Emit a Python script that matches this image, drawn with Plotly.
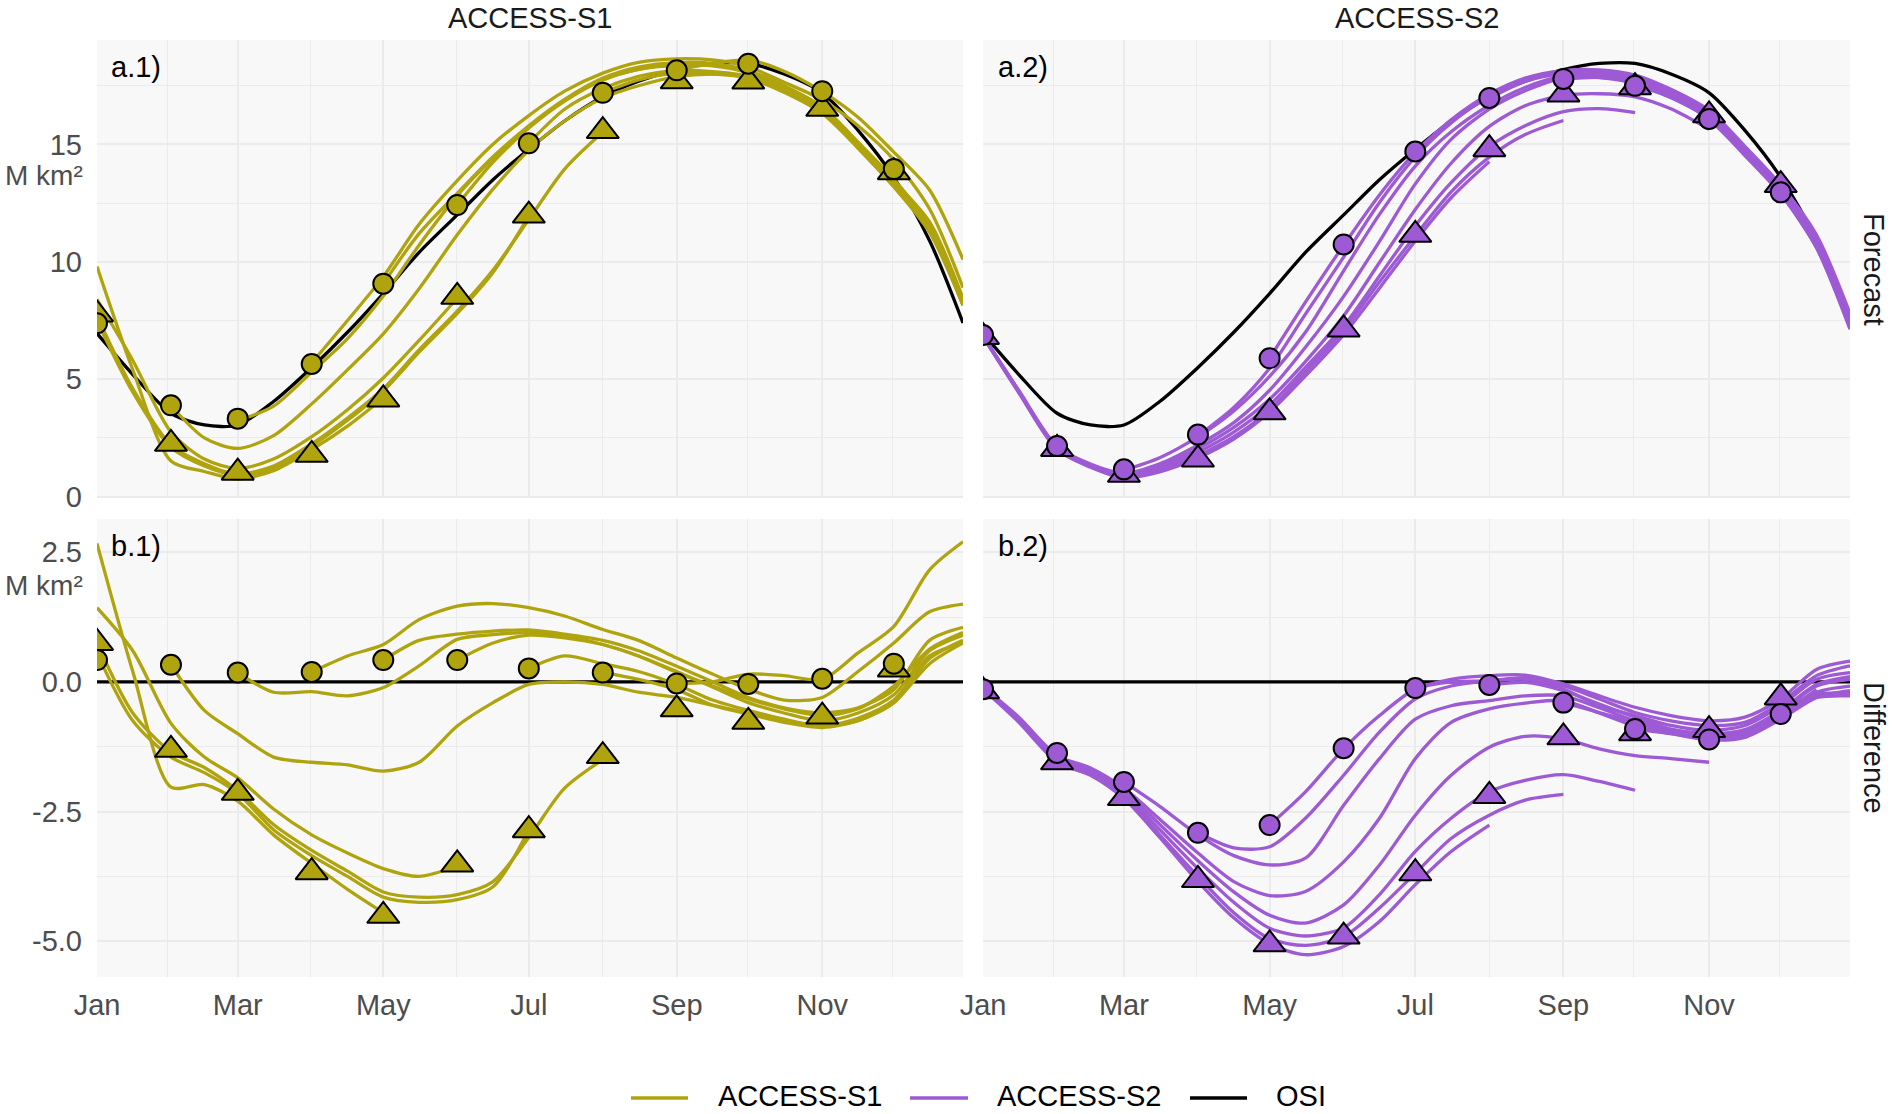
import plotly.graph_objects as go

N = None
W, H = 1892, 1114

# sample dates (x) for all series
dates = ["2021-01-01", "2021-01-16", "2021-02-01", "2021-02-15", "2021-03-01", "2021-03-16",
         "2021-04-01", "2021-04-16", "2021-05-01", "2021-05-16", "2021-06-01", "2021-06-16",
         "2021-07-01", "2021-07-16", "2021-08-01", "2021-08-16", "2021-09-01", "2021-09-16",
         "2021-10-01", "2021-10-16", "2021-11-01", "2021-11-16", "2021-12-01", "2021-12-16",
         "2021-12-30"]
month_starts = ["2021-%02d-01" % m for m in range(1, 13)]

# OSI observations (M km2)
osi_extent = [6.95, 5.2, 3.55, 3.05, 3.05, 4.05, 5.5, 7.0, 8.65, 10.4, 12.0, 13.5, 14.8, 16.0,
              17.03, 17.7, 18.19, 18.45, 18.45, 18.0, 17.2, 15.6, 13.6, 10.9, 7.4]
osi_diff = [0.0] * 25

# ACCESS-S1 forecasts (a.1)
s1_fc_1 = [9.8, 5.4, 1.52, 1.07, 0.75, 1.1, 2.0, 3.0, 4.2] + [N] * 16
s1_fc_2 = [8.4, 5.8, 2.75, 1.6, 1.2, 1.6, 2.55, 3.7, 5.05, 6.65, 8.45] + [N] * 14
s1_fc_3 = [7.7, 4.6, 2.2, 1.4, 0.95, 1.3, 2.25, 3.35, 4.6, 6.25, 7.9, 9.65, 11.8, 13.95, 15.53] + [N] * 10
s1_fc_4 = [7.5, 4.45, 2.1, 1.3, 0.9, 1.2, 2.15, 3.25, 4.5, 6.15, 7.8, 9.55, 11.95] + [N] * 12
s1_fc_5 = [N, N, 3.88, 2.5, 2.05, 2.6, 3.95, 5.4, 6.93, 8.85, 11.15, 13.1, 14.75, 16.0, 16.98, 17.5,
           17.89, 18.0, 17.85, 17.25, 16.35, 14.85, 13.2, 11.25, 8.15]
s1_fc_6 = [N] * 4 + [3.23, 3.85, 5.31, 6.73, 8.54, 10.71, 12.82, 14.41, 15.75, 16.88, 17.75, 18.2,
                     18.37, 18.37, 18.12, 17.48, 16.55, 15.08, 13.52, 11.53, 8.35]
s1_fc_7 = [N] * 6 + [5.69, 7.5, 9.37, 11.6, 13.46, 15.01, 16.23, 17.27, 18.04, 18.5, 18.65, 18.6,
                     18.31, 17.65, 16.9, 15.8, 14.35, 12.25, 8.9]
s1_fc_8 = [N] * 16 + [18.16, 18.45, 18.6, 18.12, 17.25, 16.16, 14.67, 13.06, 10.1]
s1_fc_9 = [N] * 8 + [9.07, 11.2, 12.92, 14.48, 15.8, 16.92, 17.83, 18.3, 18.49, 18.45, 18.15, 17.5,
                     16.6, 15.1, 13.45, 11.7, 8.45]
s1_fc_10 = [N] * 10 + [12.42, 14.25, 15.7, 16.85, 17.75, 18.2, 18.39, 18.35, 18.05, 17.4, 16.45, 15.0,
                       13.35, 11.5, 8.3]
s1_fc_11 = [N] * 12 + [15.06, 16.5, 17.38, 17.9, 18.14, 18.1, 17.9, 17.28, 16.35, 14.9, 13.25, 11.4, 8.15]
s1_fc_12 = [N] * 14 + [17.21, 17.75, 18.04, 18.0, 17.83, 17.22, 16.32, 14.85, 13.2, 11.35, 8.2]

# ACCESS-S1 differences (b.1)
s1_df_1 = [2.67, 0.2, -2.03, -1.98, -2.3, -2.95, -3.5, -4.0, -4.45] + [N] * 16
s1_df_2 = [1.43, 0.6, -0.8, -1.45, -1.85, -2.45, -2.95, -3.3, -3.6, -3.75, -3.55] + [N] * 14
s1_df_3 = [0.75, -0.6, -1.35, -1.65, -2.1, -2.75, -3.25, -3.65, -4.05, -4.15, -4.1, -3.85, -3.0, -2.05, -1.5] + [N] * 10
s1_df_4 = [0.55, -0.75, -1.45, -1.75, -2.15, -2.85, -3.35, -3.75, -4.15, -4.25, -4.2, -3.95, -2.85] + [N] * 12
s1_df_5 = [N, N, 0.33, -0.55, -1.0, -1.45, -1.55, -1.6, -1.72, -1.55, -0.85, -0.4, -0.05, 0.0, -0.05,
           -0.2, -0.3, -0.45, -0.6, -0.75, -0.85, -0.75, -0.4, 0.35, 0.75]
s1_df_6 = [N] * 4 + [0.18, -0.2, -0.19, -0.27, -0.11, 0.31, 0.82, 0.91, 0.95, 0.88, 0.72, 0.5, 0.18,
                     -0.08, -0.33, -0.52, -0.65, -0.52, -0.08, 0.63, 0.95]
s1_df_7 = [N] * 6 + [0.19, 0.5, 0.72, 1.2, 1.46, 1.51, 1.43, 1.27, 1.01, 0.8, 0.46, 0.15, -0.14, -0.35,
                     -0.3, 0.2, 0.75, 1.35, 1.5]
s1_df_8 = [N] * 16 + [-0.03, 0.0, 0.15, 0.12, 0.05, 0.56, 1.07, 2.16, 2.7]
s1_df_9 = [N] * 8 + [0.42, 0.8, 0.92, 0.98, 1.0, 0.92, 0.8, 0.6, 0.3, 0.0, -0.3, -0.5, -0.6, -0.5,
                     -0.15, 0.8, 1.05]
s1_df_10 = [N] * 10 + [0.42, 0.75, 0.9, 0.85, 0.72, 0.5, 0.2, -0.1, -0.4, -0.6, -0.75, -0.6, -0.25, 0.6, 0.9]
s1_df_11 = [N] * 12 + [0.26, 0.5, 0.35, 0.2, -0.05, -0.35, -0.55, -0.72, -0.85, -0.7, -0.35, 0.5, 0.75]
s1_df_12 = [N] * 14 + [0.18, 0.05, -0.15, -0.45, -0.62, -0.78, -0.88, -0.75, -0.4, 0.45, 0.8]

# ACCESS-S2 forecasts (a.2)
s2_fc_g = [6.81, 4.42, 2.0, 1.25, 0.8, 1.05, 1.65, 2.45, 3.6, 5.14, 6.9, 8.88, 10.89, 12.73, 14.27] + [N] * 10
s2_fc_f = [6.82, 4.45, 2.05, 1.3, 0.85, 1.1, 1.75, 2.55, 3.7, 5.32, 7.09, 9.14, 11.11, 12.98, 14.46, 15.42, 16.02] + [N] * 8
s2_fc_e = [6.83, 4.48, 2.08, 1.33, 0.9, 1.2, 1.9, 2.75, 3.9, 5.5, 7.26, 9.4, 11.53, 13.37, 14.91, 15.8,
           16.4, 16.53, 16.36] + [N] * 6
s2_fc_d = [6.84, 4.5, 2.1, 1.35, 0.95, 1.3, 2.05, 2.95, 4.15, 5.75, 7.7, 9.97, 12.23, 14.2, 15.77, 16.65,
           17.09, 17.16, 17.03, 16.52, 15.65] + [N] * 4
s2_fc_c = [6.85, 4.52, 2.13, 1.39, 1.0, 1.4, 2.2, 3.15, 4.53, 6.36, 8.53, 10.87, 13.32, 15.22, 16.51, 17.29,
           17.83, 17.85, 17.6, 17.0, 16.12, 14.62, 12.98, 10.75] + [N]
s2_fc_b = [N] * 4 + [1.12, 1.65, 2.55, 3.65, 5.12, 7.0, 9.62, 12.02, 14.08, 15.54, 16.67, 17.43, 17.92,
                     17.95, 17.7, 17.08, 16.2, 14.68, 13.05, 10.85, 7.5]
s2_fc_a = [N] * 6 + [2.59, 3.8, 5.47, 7.77, 10.2, 12.53, 14.47, 15.92, 17.05, 17.75, 18.05, 17.99, 17.8,
                     17.16, 16.26, 14.76, 13.14, 10.95, 7.58]
s2_fc_m = [N] * 8 + [5.89, 8.28, 10.71, 12.85, 14.66, 16.0, 17.05, 17.78, 18.11, 18.12, 17.86, 17.25,
                     16.36, 14.82, 13.2, 11.02, 7.71]
s2_fc_j7 = [N] * 12 + [14.68, 16.05, 17.15, 17.83, 18.15, 18.18, 17.96, 17.35, 16.45, 14.92, 13.27, 11.14, 7.8]
s2_fc_j8 = [N] * 14 + [16.97, 17.69, 18.02, 18.02, 17.77, 17.09, 16.2, 14.63, 13.01, 10.82, 7.45]
s2_fc_j9 = [N] * 16 + [17.79, 17.86, 17.67, 17.03, 16.13, 14.6, 12.95, 10.7, 7.32]
s2_fc_j10 = [N] * 18 + [17.54, 17.0, 16.08, 14.53, 12.88, 10.6, 7.23]
s2_fc_j11 = [N] * 20 + [16.09, 14.58, 12.92, 10.65, 7.18]
s2_fc_j12 = [N] * 22 + [12.98, 10.6, 7.13]

# ACCESS-S2 differences (b.2)
s2_df_g = [-0.14, -0.78, -1.55, -1.8, -2.25, -3.0, -3.85, -4.55, -5.05, -5.26, -5.1, -4.62, -3.91, -3.27, -2.76] + [N] * 10
s2_df_f = [-0.13, -0.75, -1.5, -1.75, -2.2, -2.95, -3.75, -4.45, -4.95, -5.08, -4.91, -4.36, -3.69, -3.02,
           -2.57, -2.28, -2.17] + [N] * 8
s2_df_e = [-0.12, -0.72, -1.47, -1.72, -2.15, -2.85, -3.6, -4.25, -4.75, -4.9, -4.74, -4.1, -3.27, -2.63,
           -2.12, -1.9, -1.79, -1.92, -2.09] + [N] * 6
s2_df_d = [-0.11, -0.7, -1.45, -1.7, -2.1, -2.75, -3.45, -4.05, -4.5, -4.65, -4.3, -3.53, -2.57, -1.8,
           -1.26, -1.05, -1.1, -1.29, -1.42, -1.48, -1.55] + [N] * 4
s2_df_c = [-0.1, -0.68, -1.42, -1.66, -2.05, -2.65, -3.3, -3.85, -4.12, -4.04, -3.47, -2.63, -1.48, -0.78,
           -0.52, -0.41, -0.36, -0.6, -0.85, -1.0, -1.08, -0.98, -0.62, -0.15] + [N]
s2_df_b = [N] * 4 + [-1.93, -2.4, -2.95, -3.35, -3.53, -3.4, -2.38, -1.48, -0.72, -0.46, -0.36, -0.27,
                     -0.27, -0.5, -0.75, -0.92, -1.0, -0.92, -0.55, -0.05, 0.1]
s2_df_a = [N] * 6 + [-2.91, -3.2, -3.18, -2.63, -1.8, -0.97, -0.33, -0.08, 0.02, 0.05, -0.14, -0.46,
                     -0.65, -0.84, -0.94, -0.84, -0.46, 0.05, 0.18]
s2_df_m = [N] * 8 + [-2.76, -2.12, -1.29, -0.65, -0.14, 0.0, 0.02, 0.08, -0.08, -0.33, -0.59, -0.75,
                     -0.84, -0.78, -0.4, 0.12, 0.31]
s2_df_j7 = [N] * 12 + [-0.12, 0.05, 0.12, 0.13, -0.04, -0.27, -0.49, -0.65, -0.75, -0.68, -0.33, 0.24, 0.4]
s2_df_j8 = [N] * 14 + [-0.06, -0.01, -0.17, -0.43, -0.68, -0.91, -1.0, -0.97, -0.59, -0.08, 0.05]
s2_df_j9 = [N] * 16 + [-0.4, -0.59, -0.78, -0.97, -1.07, -1.0, -0.65, -0.2, -0.08]
s2_df_j10 = [N] * 18 + [-0.91, -1.0, -1.12, -1.07, -0.72, -0.3, -0.17]
s2_df_j11 = [N] * 20 + [-1.11, -1.02, -0.68, -0.25, -0.22]
s2_df_j12 = [N] * 22 + [-0.62, -0.3, -0.27]

# markers (first of each month): circles and triangles
s1_circ_fc = [7.38, 3.89, 3.32, 5.65, 9.07, 12.42, 15.05, 17.2, 18.16, 18.44, 17.27, 13.95]
s1_tri_fc = [7.76, 2.25, 1.02, 1.78, 4.14, 8.51, 11.97, 15.57, 17.69, 17.68, 16.52, 13.82]
s1_circ_df = [0.42, 0.33, 0.18, 0.19, 0.42, 0.42, 0.26, 0.18, -0.03, -0.04, 0.06, 0.35]
s1_tri_df = [0.75, -1.31, -2.14, -3.67, -4.51, -3.52, -2.86, -1.43, -0.53, -0.77, -0.67, 0.24]
s2_circ_fc = [6.88, 2.15, 1.16, 2.64, 5.89, 10.74, 14.7, 16.98, 17.79, 17.5, 16.09, 12.96]
s2_tri_fc = [6.8, 2.03, 0.93, 1.58, 3.59, 7.12, 11.15, 14.8, 17.13, 17.44, 16.24, 13.27]
s2_circ_df = [-0.14, -1.37, -1.93, -2.91, -2.76, -1.28, -0.12, -0.06, -0.40, -0.91, -1.11, -0.62]
s2_tri_df = [-0.18, -1.55, -2.24, -3.82, -5.06, -4.91, -3.69, -2.2, -1.07, -0.99, -0.93, -0.3]

# axes ticks
x_tick_vals = ["2021-01-01", "2021-03-01", "2021-05-01", "2021-07-01", "2021-09-01", "2021-11-01"]
x_tick_text = ["Jan", "Mar", "May", "Jul", "Sep", "Nov"]
x_minor_vals = ["2021-01-30 12:00", "2021-03-31 12:00", "2021-05-31 12:00", "2021-08-01",
                "2021-09-30 12:00", "2021-11-30 12:00"]
y_fc_ticks = [0, 5, 10, 15]
y_fc_text = ["0", "5", "10", "15"]
y_fc_minor = [2.5, 7.5, 12.5, 17.5]
y_df_ticks = [-5, -2.5, 0, 2.5]
y_df_text = ["-5.0", "-2.5", "0.0", "2.5"]
y_df_minor = [-3.75, -1.25, 1.25]

OLIVE = "#B0A40E"
PURPLE = "#9D5AD4"
BLACK = "#000000"
FONT = "Liberation Sans, Arial, Helvetica, sans-serif"
FS = 29

fig = go.Figure()


def add_line(y, color, xa, ya, width=3.3):
    fig.add_trace(go.Scatter(x=dates, y=y, mode="lines",
                             line=dict(color=color, width=width, shape="spline", smoothing=0.8),
                             xaxis=xa, yaxis=ya, showlegend=False, hoverinfo="skip"))


def add_markers(vals, symbol, color, xa, ya, size):
    fig.add_trace(go.Scatter(x=month_starts, y=vals, mode="markers",
                             marker=dict(symbol=symbol, size=size, color=color,
                                         line=dict(color="black", width=2)),
                             xaxis=xa, yaxis=ya, showlegend=False, hoverinfo="skip"))


# OSI first (underneath)
add_line(osi_extent, BLACK, "x", "y")
add_line(osi_extent, BLACK, "x2", "y2")
add_line(osi_diff, BLACK, "x3", "y3")
add_line(osi_diff, BLACK, "x4", "y4")

for s in [s1_fc_1, s1_fc_2, s1_fc_3, s1_fc_4, s1_fc_5, s1_fc_6, s1_fc_7, s1_fc_8, s1_fc_9,
          s1_fc_10, s1_fc_11, s1_fc_12]:
    add_line(s, OLIVE, "x", "y")
for s in [s1_df_1, s1_df_2, s1_df_3, s1_df_4, s1_df_5, s1_df_6, s1_df_7, s1_df_8, s1_df_9,
          s1_df_10, s1_df_11, s1_df_12]:
    add_line(s, OLIVE, "x3", "y3")
for s in [s2_fc_g, s2_fc_f, s2_fc_e, s2_fc_d, s2_fc_c, s2_fc_b, s2_fc_a, s2_fc_m, s2_fc_j7,
          s2_fc_j8, s2_fc_j9, s2_fc_j10, s2_fc_j11, s2_fc_j12]:
    add_line(s, PURPLE, "x2", "y2")
for s in [s2_df_g, s2_df_f, s2_df_e, s2_df_d, s2_df_c, s2_df_b, s2_df_a, s2_df_m, s2_df_j7,
          s2_df_j8, s2_df_j9, s2_df_j10, s2_df_j11, s2_df_j12]:
    add_line(s, PURPLE, "x4", "y4")

TRI = 28
CIR = 20
add_markers(s1_tri_fc, "triangle-up", OLIVE, "x", "y", TRI)
add_markers(s1_circ_fc, "circle", OLIVE, "x", "y", CIR)
add_markers(s2_tri_fc, "triangle-up", PURPLE, "x2", "y2", TRI)
add_markers(s2_circ_fc, "circle", PURPLE, "x2", "y2", CIR)
add_markers(s1_tri_df, "triangle-up", OLIVE, "x3", "y3", TRI)
add_markers(s1_circ_df, "circle", OLIVE, "x3", "y3", CIR)
add_markers(s2_tri_df, "triangle-up", PURPLE, "x4", "y4", TRI)
add_markers(s2_circ_df, "circle", PURPLE, "x4", "y4", CIR)

XL = [97 / W, 963 / W]
XR = [983 / W, 1850 / W]
YT = [1 - 498 / H, 1 - 40 / H]
YB = [1 - 977 / H, 1 - 519 / H]
GRID = "#EBEBEB"
tickfont = dict(family=FONT, size=FS, color="#4D4D4D")


def xax(domain, anchor, labels):
    return dict(domain=domain, anchor=anchor, type="date", automargin=False,
                range=["2021-01-01", "2021-12-30"],
                tickmode="array", tickvals=x_tick_vals, ticktext=x_tick_text,
                showticklabels=labels, ticks="", showgrid=True, gridcolor=GRID, gridwidth=2.4,
                zeroline=False, showline=False, tickfont=tickfont, ticklabelstandoff=8,
                minor=dict(tickvals=x_minor_vals, showgrid=True, gridcolor=GRID, gridwidth=1.3, ticks=""))


def yax(domain, anchor, rng, tv, tt, mv, labels):
    return dict(domain=domain, anchor=anchor, range=rng, automargin=False,
                tickmode="array", tickvals=tv, ticktext=tt,
                showticklabels=labels, ticks="", showgrid=True, gridcolor=GRID, gridwidth=2.4,
                zeroline=False, showline=False, tickfont=tickfont, ticklabelstandoff=14,
                minor=dict(tickvals=mv, showgrid=True, gridcolor=GRID, gridwidth=1.3, ticks=""))


yr_fc = [-0.06, 19.45]
yr_df = [-5.69, 3.14]

ann = []


def text(s, x, y, xanchor="center", yanchor="middle", color="#1A1A1A", angle=0, size=FS):
    ann.append(dict(text=s, x=x / W, y=1 - y / H, xref="paper", yref="paper", showarrow=False,
                    xanchor=xanchor, yanchor=yanchor, textangle=angle,
                    font=dict(family=FONT, size=size, color=color)))


text("ACCESS-S1", 530, 0, yanchor="top")
text("ACCESS-S2", 1416.5, 0, yanchor="top")
text("Forecast", 1892, 269, xanchor="right", angle=90)
text("Difference", 1892, 748, xanchor="right", angle=90)
text("M km²", 85, 176, xanchor="right", color="#4D4D4D", size=28)
text("M km²", 85, 585, xanchor="right", color="#4D4D4D", size=28)
text("a.1)", 109, 67, xanchor="left", color="#000000")
text("a.2)", 996, 67, xanchor="left", color="#000000")
text("b.1)", 109, 546, xanchor="left", color="#000000")
text("b.2)", 996, 546, xanchor="left", color="#000000")

# legend drawn manually
legend_items = [("ACCESS-S1", OLIVE, 631, 688, 716), ("ACCESS-S2", PURPLE, 910, 968, 995),
                ("OSI", BLACK, 1190, 1247, 1274)]
shapes = []
for label, col, x0, x1, tx in legend_items:
    shapes.append(dict(type="line", xref="paper", yref="paper", x0=x0 / W, x1=x1 / W,
                       y0=1 - 1098 / H, y1=1 - 1098 / H, line=dict(color=col, width=3.4)))
    text(label, tx, H, xanchor="left", yanchor="bottom", color="#000000")

fig.update_layout(
    width=W, height=H, autosize=False,
    margin=dict(l=0, r=0, t=0, b=0, pad=0),
    paper_bgcolor="white", plot_bgcolor="#F8F8F8",
    showlegend=False,
    xaxis=xax(XL, "y", False), yaxis=yax(YT, "x", yr_fc, y_fc_ticks, y_fc_text, y_fc_minor, True),
    xaxis2=xax(XR, "y2", False), yaxis2=yax(YT, "x2", yr_fc, y_fc_ticks, y_fc_text, y_fc_minor, False),
    xaxis3=xax(XL, "y3", True), yaxis3=yax(YB, "x3", yr_df, y_df_ticks, y_df_text, y_df_minor, True),
    xaxis4=xax(XR, "y4", True), yaxis4=yax(YB, "x4", yr_df, y_df_ticks, y_df_text, y_df_minor, False),
    annotations=ann, shapes=shapes,
    font=dict(family=FONT, size=FS),
)

fig.write_html("out.html", config={"displayModeBar": False},
               post_script="document.body.style.margin='0px';document.body.style.overflow='hidden';")
